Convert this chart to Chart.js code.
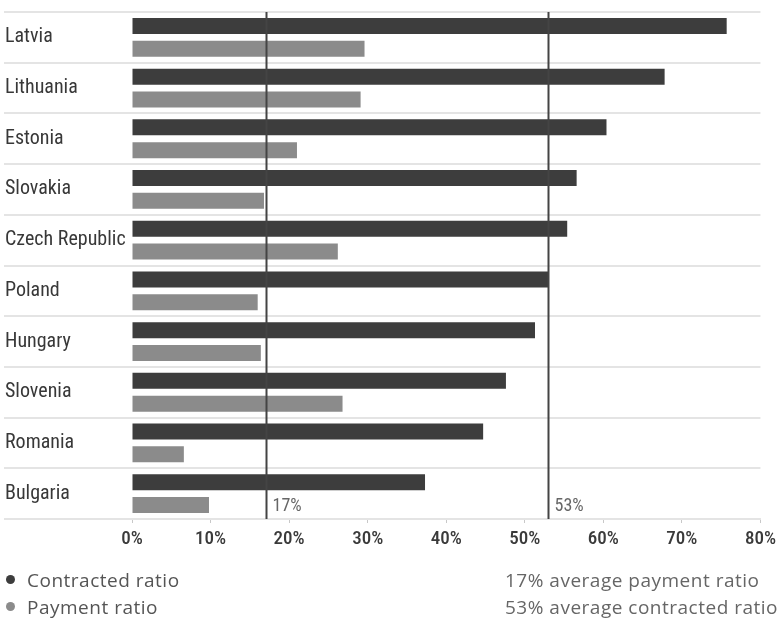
<!DOCTYPE html>
<html>
<head>
<meta charset="utf-8">
<script src="https://cdn.jsdelivr.net/npm/chart.js@4/dist/chart.umd.min.js"></script>
<style>
  html, body { margin: 0; padding: 0; background: #fff; overflow: hidden; }
  #wrap { position: relative; width: 781px; height: 618px; overflow: hidden; }
  #legend { position: absolute; left: 0; top: 567px; width: 781px; height: 51px;
    font-family: 'Open Sans', Roboto, sans-serif; font-size: 19px; letter-spacing: 0.5px; color: #555; }
  .item { position: absolute; white-space: nowrap; line-height: 26px; height: 26px; }
  .dot { display: inline-block; width: 9px; height: 9px; border-radius: 50%; margin-left: 1px; margin-right: 12px; vertical-align: 3px; }
</style>
</head>
<body>
<div id="wrap">
  <canvas id="chart" width="781" height="618"></canvas>
  <div id="legend"></div>
</div>
<script>
// Data
const countries = ['Latvia', 'Lithuania', 'Estonia', 'Slovakia', 'Czech Republic',
                   'Poland', 'Hungary', 'Slovenia', 'Romania', 'Bulgaria'];
const contractedRatio = [75.7, 67.8, 60.4, 56.6, 55.4, 53.0, 51.3, 47.6, 44.7, 37.3];
const paymentRatio = [29.6, 29.1, 21.0, 16.8, 26.2, 16.0, 16.4, 26.8, 6.6, 9.8];
const averageLines = [17, 53];
const seriesNames = ['Contracted ratio', 'Payment ratio'];
const averageNotes = ['17% average payment ratio', '53% average contracted ratio'];

const DARK = '#3d3d3d';
const LIGHT = '#8b8b8b';
const condensed = "'Roboto Condensed', 'DejaVu Sans Condensed', 'Liberation Sans Narrow', Roboto, sans-serif";

// Vertical average lines with their labels
const avgLinesPlugin = {
  id: 'avgLines',
  afterDatasetsDraw(chart) {
    const { ctx, chartArea, scales } = chart;
    ctx.save();
    averageLines.forEach(v => {
      const x = Math.round(scales.x.getPixelForValue(v)) + 0.5;
      ctx.strokeStyle = '#444';
      ctx.lineWidth = 2;
      ctx.beginPath();
      ctx.moveTo(x, chartArea.top);
      ctx.lineTo(x, chartArea.bottom);
      ctx.stroke();
      ctx.fillStyle = '#666';
      ctx.font = '18px ' + condensed;
      ctx.textAlign = 'left';
      ctx.textBaseline = 'middle';
      ctx.fillText(v + '%', x + 6, chartArea.bottom - 13);
    });
    ctx.restore();
  }
};

new Chart(document.getElementById('chart'), {
  type: 'bar',
  data: {
    labels: countries,
    datasets: [
      { label: seriesNames[0], data: contractedRatio, backgroundColor: DARK,
        categoryPercentage: 0.9, barPercentage: 0.7 },
      { label: seriesNames[1], data: paymentRatio, backgroundColor: LIGHT,
        categoryPercentage: 0.9, barPercentage: 0.7 }
    ]
  },
  options: {
    indexAxis: 'y',
    responsive: false,
    animation: false,
    layout: { padding: { top: 7, right: 15, bottom: 69, left: 5 } },
    plugins: {
      legend: { display: false },
      tooltip: { enabled: false }
    },
    scales: {
      x: {
        min: 0, max: 80,
        ticks: {
          stepSize: 10,
          padding: 5,
          color: '#3a3a3a',
          font: { family: condensed, size: 19, weight: '500' },
          callback: v => v + '%'
        },
        grid: { drawOnChartArea: false, drawTicks: true, tickLength: 4, color: '#c8c8c8' },
        border: { display: true, color: '#e4e4e4', width: 2 },
        afterFit(scale) { scale.height = 30; }
      },
      y: {
        ticks: {
          crossAlign: 'far',
          color: '#383838',
          font: { family: condensed, size: 20 },
          padding: 0
        },
        grid: { offset: true, color: '#e4e4e4', lineWidth: 2, tickLength: 128 },
        border: { display: false },
        afterFit(scale) { scale.width = 127; }
      }
    }
  },
  plugins: [avgLinesPlugin]
});

// HTML legend below the chart
const legend = document.getElementById('legend');
const colors = [DARK, LIGHT];
seriesNames.forEach((name, i) => {
  const el = document.createElement('div');
  el.className = 'item';
  el.style.left = '5px';
  el.style.top = (i * 27) + 'px';
  el.innerHTML = '<span class="dot" style="background:' + colors[i] + '"></span>' + name;
  legend.appendChild(el);
});
averageNotes.forEach((note, i) => {
  const el = document.createElement('div');
  el.className = 'item';
  el.style.left = '505px';
  el.style.top = (i * 27) + 'px';
  el.style.color = '#666';
  el.textContent = note;
  legend.appendChild(el);
});
</script>
</body>
</html>
